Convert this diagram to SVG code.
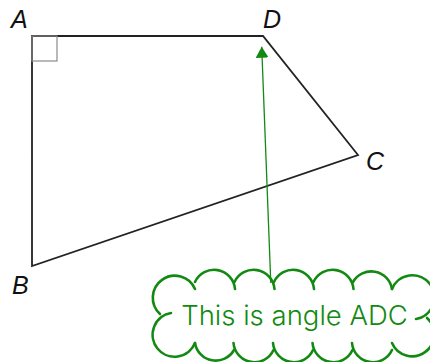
<svg xmlns="http://www.w3.org/2000/svg" width="430" height="362" viewBox="0 0 430 362">
<defs>
<style>
.lbl{font-family:"Liberation Sans",Arial,sans-serif;font-style:italic;font-size:25px;fill:#111}
.edge{fill:none;stroke:#222;stroke-width:1.8;stroke-linejoin:miter}
.ra{fill:none;stroke:#8a8a8a;stroke-width:1.2}
.cloud path{fill:none;stroke:#128a12;stroke-width:2.6;stroke-linecap:round}
.note{font-family:Inter,Lato,sans-serif;font-weight:300;font-size:27.5px;fill:#128a12}
.arrow{stroke:#128a12;stroke-width:1.3;fill:none}
</style>
<marker id="ah" viewBox="0 0 11 13" refX="11" refY="6.5" markerWidth="11" markerHeight="13" markerUnits="userSpaceOnUse" orient="auto">
<path d="M0,0 L11,6.5 L0,13 z" fill="#128a12"/>
</marker>
</defs>
<g id="shape">
<polygon class="edge" points="32,36 263,36 358,155 32,266"/>
<rect class="ra" x="32" y="36" width="25" height="25"/>
</g>
<g id="A"><text class="lbl" x="11" y="28">A</text></g>
<g id="D"><text class="lbl" x="263" y="28">D</text></g>
<g id="C"><text class="lbl" x="366" y="170">C</text></g>
<g id="B"><text class="lbl" x="12" y="294">B</text></g>
<g id="note">
<g class="cloud">
<path d="M160,314 A22 22 0 1 1 195,289"/>
<path d="M171,313 A22 22 0 1 0 195,343"/>
<path d="M195,282 A21 21 0 0 1 235,289"/>
<path d="M234.5,282 A21 21 0 0 1 274.5,289"/>
<path d="M274,282 A21 21 0 0 1 314,289"/>
<path d="M313.5,282 A21 21 0 0 1 353.5,289"/>
<path d="M353,282 A21 21 0 0 1 392,289"/>
<path d="M416,319 A22 22 0 1 0 392,289"/>
<path d="M427,318 A22 22 0 1 1 392,343"/>
<path d="M392,350 A21 21 0 0 1 352,343"/>
<path d="M352.5,350 A21 21 0 0 1 312.5,343"/>
<path d="M313,350 A21 21 0 0 1 273,343"/>
<path d="M273.5,350 A21 21 0 0 1 233.5,343"/>
<path d="M234,350 A21 21 0 0 1 195,343"/>
</g>
<text class="note" x="294.5" y="325" text-anchor="middle">This is angle ADC</text>
</g>
<g id="connectors">
<line class="arrow" x1="270.8" y1="283" x2="261.7" y2="46.7" marker-end="url(#ah)"/>
</g>
</svg>
